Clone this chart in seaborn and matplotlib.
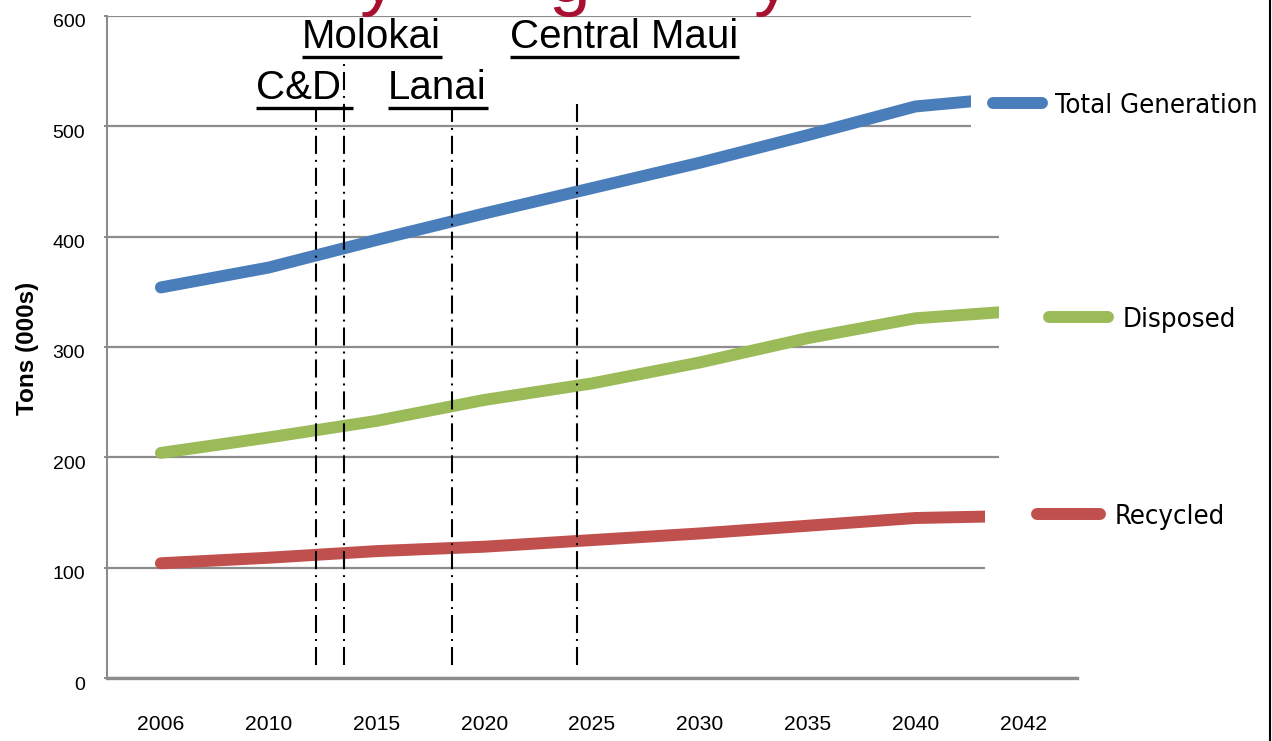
import os
import re
import numpy as np
import pandas as pd
import matplotlib
matplotlib.use("Agg")
import matplotlib.pyplot as plt
import seaborn as sns
from matplotlib import font_manager as fm
from matplotlib.lines import Line2D
from matplotlib.patches import Rectangle
from matplotlib.transforms import ScaledTranslation

# ---------------- data ----------------
years = ["2006", "2010", "2015", "2020", "2025", "2030", "2035", "2040", "2042"]
total_generation = [354, 372, 397, 421, 444, 467, 492, 518, 527]
disposed = [204, 218, 233, 252, 267, 286, 308, 326, 333]
recycled = [104, 109, 115, 119, 125, 131, 138, 145, 147]
series_names = ["Total Generation", "Disposed", "Recycled"]
series_colors = ["#4A7EBB", "#9BBB59", "#C0504D"]
facility_names = ["C&D", "Molokai", "Lanai", "Central Maui"]
facility_years = [2012.2, 2013.5, 2018.5, 2024.3]
y_ticks = [0, 100, 200, 300, 400, 500, 600]
y_label = "Tons (000s)"
title_fragments = ["y", "g", "y"]

# ---------------- fonts ----------------
sns.set_theme(style="white")
avail = {f.name for f in fm.fontManager.ttflist}


def pick(*names):
    for n in names:
        if n in avail:
            return n
    return "DejaVu Sans"


BASE = pick("Liberation Sans", "Arial", "DejaVu Sans")


def narrow_font():
    """Find the narrowest regular-weight sans font file available."""
    prefs = [r"Sans-ExtraCondensed(-Regular)?\.ttf$",
             r"Sans-Condensed(-Regular)?\.ttf$",
             r"SansNarrow-Regular\.ttf$",
             r"SansCondensed\.ttf$",
             r"Sans-SemiCondensed(-Regular)?\.ttf$"]
    files = [f.fname for f in fm.fontManager.ttflist]
    for p in prefs:
        hits = sorted(fn for fn in files if re.search(p, os.path.basename(fn))
                      and "Mono" not in os.path.basename(fn))
        if hits:
            return fm.FontProperties(fname=hits[0])
    return fm.FontProperties(family=BASE)


NARROW_PROP = narrow_font()
plt.rcParams["font.family"] = [BASE, "DejaVu Sans"]
plt.rcParams["lines.scale_dashes"] = False
plt.rcParams["text.color"] = "black"
plt.rcParams["axes.labelcolor"] = "black"

W, H = 1272, 741
fig = plt.figure(figsize=(W / 100, H / 100), dpi=100)
fig.patch.set_facecolor("white")


def fx(px):
    return px / W


def fy(py):
    return 1 - py / H


ax = fig.add_axes([fx(107), fy(678), fx(1077) - fx(107), fy(16) - fy(678)])
ax.set_facecolor("white")

df = pd.DataFrame({
    "Year": years * 3,
    "Tons": total_generation + disposed + recycled,
    "Series": np.repeat(series_names, len(years)),
})
palette = dict(zip(series_names, series_colors))
sns.lineplot(data=df, x="Year", y="Tons", hue="Series", palette=palette,
             linewidth=8.6, legend=False, ax=ax, sort=False,
             solid_capstyle="round", solid_joinstyle="round", zorder=2)

ax.set_xlim(-0.5, len(years) - 0.5)
ax.set_ylim(0, 600)
ax.set_yticks(y_ticks)
ax.yaxis.grid(True, color="#8c8c8c", linewidth=1.6)
ax.xaxis.grid(False)
ax.set_axisbelow(True)
for s in ["top", "right"]:
    ax.spines[s].set_visible(False)
ax.spines["left"].set_color("#8c8c8c")
ax.spines["left"].set_linewidth(1.5)
ax.spines["bottom"].set_color("#8c8c8c")
ax.spines["bottom"].set_linewidth(2.4)
ax.tick_params(axis="y", left=True, length=2.2, width=1.4, color="#8c8c8c",
               pad=13.5, labelsize=14, labelcolor="black")
ax.tick_params(axis="x", bottom=False, length=0, pad=27, labelsize=15.2,
               labelcolor="black")
for lab in ax.get_yticklabels():
    lab.set_transform(lab.get_transform() + ScaledTranslation(0, -0.05, fig.dpi_scale_trans))
ax.set_xlabel("")
ax.set_ylabel(y_label, fontsize=17.5, fontweight="bold", color="black")
ax.yaxis.set_label_coords(-0.07, 0.4985)

# facility opening markers (dash-dot verticals)
year_nums = [int(y) for y in years]
fac_pos = np.interp(facility_years, year_nums, np.arange(len(years)))
fac_tops = [517, 561, 517, 520]
for xpos, top in zip(fac_pos, fac_tops):
    ax.plot([xpos, xpos], [12, top], color="black", linewidth=1.5,
            dashes=[13, 4.3, 1.4, 4.3], zorder=3)

# white panels behind the legend entries (cover right side of plot)
for (x0, y0, x1, y1) in [(999, 0, W, 675), (971, 0, W, 140), (985, 485, W, 572)]:
    fig.add_artist(Rectangle((fx(x0), fy(y1)), fx(x1) - fx(x0), fy(y0) - fy(y1),
                             transform=fig.transFigure, facecolor="white",
                             edgecolor="none", zorder=1.5))

# legend entries sized to fit the reference label widths
renderer = fig.canvas.get_renderer()
probe = NARROW_PROP.copy()
probe.set_size(24)
targets = {"Total Generation": 203.0, "Disposed": 123.0, "Recycled": 130.0}
fits = []
for lbl, tw in targets.items():
    wpx, _, _ = renderer.get_text_width_height_descent(lbl, probe, ismath=False)
    fits.append(24 * tw / wpx)
leg_fs = min(fits[0], float(np.mean(fits)))
leg_fs_px = leg_fs * 100 / 72.0

legend_layout = {
    "Total Generation": (993, 1042, 1055, 106),
    "Disposed": (1049, 1108, 1123, 320),
    "Recycled": (1037, 1100, 1115, 517),
}
for name, color in zip(series_names, series_colors):
    l0, l1, tx, yc = legend_layout[name]
    h = Line2D([], [], color=color, linewidth=8.6, solid_capstyle="round")
    prop = NARROW_PROP.copy()
    prop.set_size(leg_fs)
    leg = fig.legend([h], [name], loc="center left",
                     bbox_to_anchor=(fx(l0), fy(yc)), bbox_transform=fig.transFigure,
                     frameon=False, borderpad=0, borderaxespad=0,
                     handlelength=(l1 - l0) / leg_fs_px,
                     handletextpad=(tx - l1) / leg_fs_px,
                     prop=prop, labelcolor="black")
    leg.set_zorder(3)

# facility labels (underlined)
ann = [("Molokai", 302, 48), ("Central Maui", 510, 48), ("C&D", 256, 99), ("Lanai", 388, 99)]
texts = []
for label, x0, base in ann:
    t = fig.text(fx(x0), fy(base), label, fontsize=29, color="black",
                 ha="left", va="baseline", zorder=4, family=BASE)
    texts.append((t, base, label))

# red title fragments cut off at the top (only descenders visible)
for ch, x0 in zip(title_fragments, [360, 549, 754]):
    fig.text(fx(x0), fy(17), ch, fontsize=54, color="#A8102F", ha="left",
             va="bottom", zorder=4, family=BASE)

# right frame line
fig.add_artist(Line2D([fx(1270), fx(1270)], [0, 1], transform=fig.transFigure,
                      color="black", linewidth=1.5, zorder=5))

fig.canvas.draw()
renderer = fig.canvas.get_renderer()
for t, base, label in texts:
    bb = t.get_window_extent(renderer)
    x1 = bb.x1 + (12 if label == "C&D" else 1)
    fig.add_artist(Line2D([bb.x0 / W, x1 / W], [fy(base + 8.5)] * 2,
                          transform=fig.transFigure, color="black",
                          linewidth=2.4, zorder=4, solid_capstyle="butt"))

fig.savefig("out.png", dpi=100, facecolor="white")
